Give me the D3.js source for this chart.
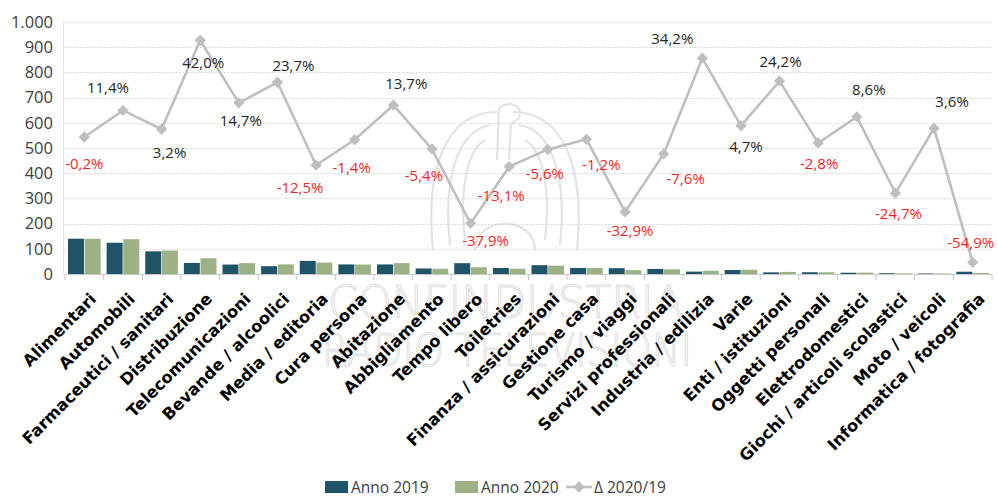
<!DOCTYPE html>
<html>
<head>
<meta charset="utf-8">
<script src="https://cdn.jsdelivr.net/npm/d3@7/dist/d3.min.js"></script>
<style>
  html, body { margin: 0; padding: 0; background: #ffffff; }
  svg { display: block; }
</style>
</head>
<body>
<svg id="chart" width="998" height="497"></svg>
<script>
// ---- data ----
const categories = [
  "Alimentari", "Automobili", "Farmaceutici / sanitari", "Distribuzione",
  "Telecomunicazioni", "Bevande / alcoolici", "Media / editoria", "Cura persona",
  "Abitazione", "Abbigliamento", "Tempo libero", "Toiletries",
  "Finanza / assicurazioni", "Gestione casa", "Turismo / viaggi", "Servizi professionali",
  "Industria / edilizia", "Varie", "Enti / istituzioni", "Oggetti personali",
  "Elettrodomestici", "Giochi / articoli scolastici", "Moto / veicoli", "Informatica / fotografia"
];
const anno2019 = [140, 124, 90, 44, 37.5, 31, 52, 38, 38, 22, 43, 24, 35, 24, 23, 20, 9.5, 16, 6.5, 7, 5, 3, 2, 9];
const anno2020 = [139.7, 138.1, 92.9, 62.5, 43.0, 38.3, 45.5, 37.5, 43.2, 20.8, 26.7, 20.9, 33.0, 23.7, 15.4, 18.5, 12.7, 16.8, 8.1, 6.8, 5.4, 2.3, 2.1, 4.1];
const delta = [-0.2, 11.4, 3.2, 42.0, 14.7, 23.7, -12.5, -1.4, 13.7, -5.4, -37.9, -13.1, -5.6, -1.2, -32.9, -7.6, 34.2, 4.7, 24.2, -2.8, 8.6, -24.7, 3.6, -54.9];
const yTicks = [0, 100, 200, 300, 400, 500, 600, 700, 800, 900, 1000];
const seriesNames = ["Anno 2019", "Anno 2020", "\u0394 2020/19"];

// ---- label nudges for the percentage labels (dx, dy from each marker) ----
const labelNudge = [
  [0, 26], [-15, -23], [8, 23], [3, 22], [2, 17], [16, -17], [-16, 22], [-3, 27],
  [13, -22], [-8, 26], [15, 17], [-8, 28], [-3, 24], [15, 25], [5, 18], [22, 24],
  [-30, -20], [5, 20], [1, -20], [1, 20], [12, -28], [3, 20], [18, -27], [-2, -20]
];

// ---- styles ----
const C2019 = "#1f5468";
const C2020 = "#9db184";
const CLINE = "#bfbfbf";
const FONT = "'Open Sans', 'DejaVu Sans', sans-serif";
const FONT_BOLD = "'DejaVu Sans', 'Open Sans', sans-serif";

const svg = d3.select("#chart");
const margin = { left: 65, right: 6, top: 22, bottom: 223 };
const W = 998, H = 497;
const plotL = margin.left, plotR = W - margin.right, plotT = margin.top, plotB = H - margin.bottom;

const x = d3.scaleBand().domain(categories).range([plotL, plotR]).paddingInner(0).paddingOuter(0);
const bw = x.bandwidth();
const x1 = d3.scaleBand().domain(["2019", "2020"]).range([3, bw - 3]).paddingInner(0.04);
const y = d3.scaleLinear().domain([0, 1000]).range([plotB, plotT]);
const y2 = d3.scaleLinear().domain([-60, 50]).range([plotB, plotT]);

// ---- watermark ----
const wm = svg.append("g").attr("fill", "none").attr("stroke", "#e3e3e3").attr("stroke-width", 2.2);
const ex = 505;
[
  // outer wing contours
  `M${ex - 8},112 C${ex - 60},112 ${ex - 80},170 ${ex - 72},250`,
  `M${ex + 8},112 C${ex + 60},112 ${ex + 80},170 ${ex + 72},250`,
  `M${ex - 14},125 C${ex - 48},130 ${ex - 62},180 ${ex - 55},245`,
  `M${ex + 14},125 C${ex + 48},130 ${ex + 62},180 ${ex + 55},245`,
  `M${ex - 20},140 C${ex - 38},150 ${ex - 46},190 ${ex - 40},240`,
  `M${ex + 20},140 C${ex + 38},150 ${ex + 46},190 ${ex + 40},240`,
  // head and body
  `M${ex - 6},108 C${ex + 6},100 ${ex + 18},106 ${ex + 14},118 L${ex + 6},124 L${ex + 4},160`,
  `M${ex - 6},108 L${ex - 8},160`,
  `M${ex - 30},250 C${ex - 30},215 ${ex + 30},215 ${ex + 30},250`
].forEach(d => wm.append("path").attr("d", d));
const wmText = svg.append("g")
  .attr("fill", "none").attr("stroke", "#e0e0e0").attr("stroke-width", 1.1)
  .attr("font-family", "'DejaVu Sans', sans-serif").attr("font-weight", 200).attr("font-size", 44);
wmText.append("text").attr("x", 328).attr("y", 318).attr("textLength", 355).attr("lengthAdjust", "spacingAndGlyphs").text("CONFINDUSTRIA");
wmText.append("text").attr("x", 322).attr("y", 366).attr("textLength", 370).attr("lengthAdjust", "spacingAndGlyphs").text("RADIO TELEVISIONI");

// ---- gridlines ----
svg.append("g").selectAll("line").data(yTicks.filter(t => t > 0)).join("line")
  .attr("x1", plotL).attr("x2", plotR)
  .attr("y1", d => Math.round(y(d)) + 0.5).attr("y2", d => Math.round(y(d)) + 0.5)
  .attr("stroke", "#d4d4d4").attr("stroke-width", 1).attr("stroke-dasharray", "1.5,1.5");

// vertical axis line
svg.append("line").attr("x1", plotL - 1.5).attr("x2", plotL - 1.5).attr("y1", plotT).attr("y2", plotB)
  .attr("stroke", "#e2e2e2").attr("stroke-width", 1);

// ---- y axis labels ----
const yAxis = d3.axisLeft(y).tickValues(yTicks).tickSize(0).tickPadding(12)
  .tickFormat(d => d3.format(",")(d).replace(/,/g, "."));
const gy = svg.append("g").attr("transform", `translate(${plotL},0)`).call(yAxis);
gy.select(".domain").remove();
gy.selectAll("text").attr("font-family", FONT).attr("font-size", 16.5).attr("fill", "#404040");

// ---- bars ----
const bars = svg.append("g");
categories.forEach((c, i) => {
  const g = bars.append("g").attr("transform", `translate(${x(c)},0)`);
  g.append("rect").attr("x", x1("2019")).attr("width", x1.bandwidth())
    .attr("y", y(anno2019[i])).attr("height", y(0) - y(anno2019[i])).attr("fill", C2019);
  g.append("rect").attr("x", x1("2020")).attr("width", x1.bandwidth())
    .attr("y", y(anno2020[i])).attr("height", y(0) - y(anno2020[i])).attr("fill", C2020);
});

// ---- x axis ----
const xAxis = d3.axisBottom(x).tickSize(0).tickFormat("");
const gx = svg.append("g").attr("transform", `translate(0,${plotB})`).call(xAxis);
gx.select(".domain").attr("stroke", "#c8c8c8").attr("stroke-width", 1.2);
// category separators
svg.append("g").selectAll("line").data(categories.map(c => x(c)).concat([plotR])).join("line")
  .attr("x1", d => d).attr("x2", d => d).attr("y1", plotB).attr("y2", plotB + 6)
  .attr("stroke", "#c8c8c8").attr("stroke-width", 1);

// rotated category labels
svg.append("g").selectAll("text").data(categories).join("text")
  .attr("transform", d => `translate(${x(d) + bw / 2 + 13},${plotB + 26}) rotate(-45)`)
  .attr("text-anchor", "end")
  .attr("font-family", FONT_BOLD).attr("font-weight", "bold").attr("font-size", 16.3)
  .attr("fill", "#000")
  .text(d => d);

// ---- delta line ----
const pts = categories.map((c, i) => [x(c) + bw / 2, y2(delta[i])]);
svg.append("path").datum(pts)
  .attr("d", d3.line())
  .attr("fill", "none").attr("stroke", CLINE).attr("stroke-width", 2.6);
svg.append("g").selectAll("rect").data(pts).join("rect")
  .attr("x", -4).attr("y", -4).attr("width", 8).attr("height", 8)
  .attr("transform", d => `translate(${d[0]},${d[1]}) rotate(45)`)
  .attr("fill", CLINE);

// percentage labels
const fmtPct = v => d3.format(".1f")(v).replace(".", ",").replace("\u2212", "-") + "%";
svg.append("g").selectAll("text").data(delta).join("text")
  .attr("x", (d, i) => pts[i][0] + labelNudge[i][0])
  .attr("y", (d, i) => pts[i][1] + labelNudge[i][1])
  .attr("text-anchor", "middle").attr("dominant-baseline", "central")
  .attr("font-family", FONT).attr("font-size", 15)
  .attr("fill", d => d < 0 ? "#ff1f1f" : "#262626")
  .text(d => fmtPct(d));

// ---- legend ----
const lg = svg.append("g").attr("font-family", FONT).attr("font-size", 15.5).attr("fill", "#404040");
const ly = 487;
lg.append("rect").attr("x", 325).attr("y", ly - 6).attr("width", 23).attr("height", 12).attr("fill", C2019);
lg.append("text").attr("x", 351).attr("y", ly).attr("dominant-baseline", "central").text(seriesNames[0]);
lg.append("rect").attr("x", 455).attr("y", ly - 6).attr("width", 23).attr("height", 12).attr("fill", C2020);
lg.append("text").attr("x", 481).attr("y", ly).attr("dominant-baseline", "central").text(seriesNames[1]);
lg.append("line").attr("x1", 566).attr("x2", 592).attr("y1", ly).attr("y2", ly)
  .attr("stroke", CLINE).attr("stroke-width", 2.6);
lg.append("rect").attr("x", -4).attr("y", -4).attr("width", 8).attr("height", 8)
  .attr("transform", `translate(579,${ly}) rotate(45)`).attr("fill", CLINE);
lg.append("text").attr("x", 594).attr("y", ly).attr("dominant-baseline", "central").text(seriesNames[2]);
</script>
</body>
</html>
